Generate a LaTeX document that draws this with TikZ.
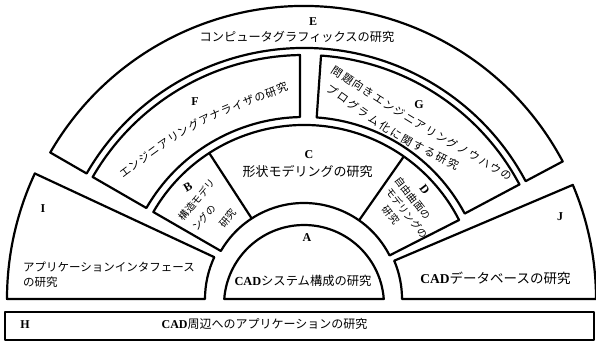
\documentclass[tikz,border=0pt]{standalone}
\usepackage{fontspec}
\setmainfont{Liberation Serif}
\newfontfamily\jp{Noto Sans CJK JP}
\usetikzlibrary{decorations.text}
\begin{document}
\begin{tikzpicture}[x=1pt,y=1pt,
  region/.style={draw=black, line width=2.2pt, line join=round},
  lbl/.style={font=\fontsize{12}{12}\selectfont\bfseries, inner sep=0pt},
  jtxt/.style={font=\jp\fontsize{11.5}{14}\selectfont, inner sep=0pt},
  jsmall/.style={font=\jp\fontsize{10}{11}\selectfont, inner sep=0pt},
]
\useasboundingbox (0,0) rectangle (596,350);
\fill[white] (0,0) rectangle (596,350);
\begin{scope}[shift={(304pt,51pt)}]
  % E ring
  \draw[region] (28:251pt) -- (28:293pt) arc[start angle=28,end angle=150,radius=293pt]
     -- (150:251pt) arc[start angle=150,end angle=28,radius=251pt] -- cycle;
  % F
  \draw[region] (150:244pt) arc[start angle=150,end angle=90.94,radius=244pt]
     -- (91.27:182pt) arc[start angle=91.27,end angle=150,radius=182pt] -- cycle;
  % G
  \draw[region] (86:244pt) arc[start angle=86,end angle=28,radius=244pt]
     -- (28:182pt) arc[start angle=28,end angle=86,radius=182pt] -- cycle;
  % B C D band
  \draw[region] (150:174pt) arc[start angle=150,end angle=27,radius=174pt]
     -- (27:96pt) arc[start angle=27,end angle=150,radius=96pt] -- cycle;
  \draw[region] (123:96pt) -- (123:174pt);
  \draw[region] (55:96pt) -- (55:174pt);
  % A
  \draw[region] ([shift={(0,-6)}]4.3:80pt) arc[start angle=4.3,end angle=175.7,radius=80pt] -- cycle;
  % I
  \draw[region] (155:99pt) -- (155:297pt) arc[start angle=155,end angle=180,radius=297pt]
     -- (180:99pt) arc[start angle=180,end angle=155,radius=99pt] -- cycle;
  % J
  \draw[region] (0:98pt) -- (0:292pt) arc[start angle=0,end angle=23,radius=292pt]
     -- (23:98pt) arc[start angle=23,end angle=0,radius=98pt] -- cycle;
\end{scope}
% H
\draw[region] (5,10) rectangle (594,38);

% labels
\node[lbl] (labE) at (313,328) {E};
\node[jtxt, font=\jp\fontsize{12.2}{14}\selectfont] (txtE) at (297,313) {コンピュータグラフィックスの研究};
\node[lbl] (labF) at (195,248) {F};
\path[decorate, decoration={text along path, text align={fit to path}, raise=-4.2pt,
   text={|\jp\fontsize{11}{11}\selectfont|エンジニアリングアナライザの研究}}]
   (120.6,174.7) .. controls (190,227) .. (287,264);
\node[lbl] (labG) at (419,245) {G};
\path[decorate, decoration={text along path, text align={fit to path}, raise=-4.2pt,
   text={|\jp\fontsize{11}{11}\selectfont|問題向きエンジニアリングノウハウの}}]
   (333,281) .. controls (416,227) .. (511,173);
\path[decorate, decoration={text along path, text align={fit to path}, raise=-4.2pt,
   text={|\jp\fontsize{11}{11}\selectfont|プログラム化に関する研究}}]
   (328,263) .. controls (399,212) .. (458,184);
\node[lbl] (labC) at (309,195) {C};
\node[jtxt, font=\jp\fontsize{13}{13}\selectfont] (txtC) at (307.5,178) {形状モデリングの研究};
\node[lbl, rotate=30] (labB) at (188,163) {B};
\node[jsmall, rotate=50] (txtB1) at (197,150) {構造モデリ};
\node[jsmall, rotate=50] (txtB2) at (204,132) {ングの};
\node[jsmall, rotate=50] (txtB3) at (228,132) {研究};
\node[lbl, rotate=-52] (labD) at (424.5,160) {D};
\node[jsmall, rotate=-52] (txtD1) at (413,152) {自由曲面の};
\node[jsmall, rotate=-52] (txtD2) at (407,137) {モデリングの};
\node[jsmall, rotate=-52] (txtD3) at (391,135) {研究};
\node[lbl] (labA) at (307,112) {A};
\node[jtxt, font=\jp\fontsize{12.3}{14}\selectfont] (txtA) at (303,69) {{\rmfamily\bfseries CAD}システム構成の研究};
\node[lbl] (labI) at (43,141) {I};
\node[jtxt, anchor=west] (txtI1) at (23,83) {アプリケーションインタフェース};
\node[jtxt, anchor=west] (txtI2) at (23,68) {の研究};
\node[lbl] (labJ) at (560,133) {J};
\node[jtxt, font=\jp\fontsize{13.5}{14}\selectfont] (txtJ) at (495.5,72) {{\rmfamily\bfseries CAD}データベースの研究};
\node[lbl] (labH) at (25,25) {H};
\node[jtxt, font=\jp\fontsize{12}{13}\selectfont] (txtH) at (264.5,26) {{\rmfamily\bfseries CAD}周辺へのアプリケーションの研究};
\end{tikzpicture}
\end{document}
